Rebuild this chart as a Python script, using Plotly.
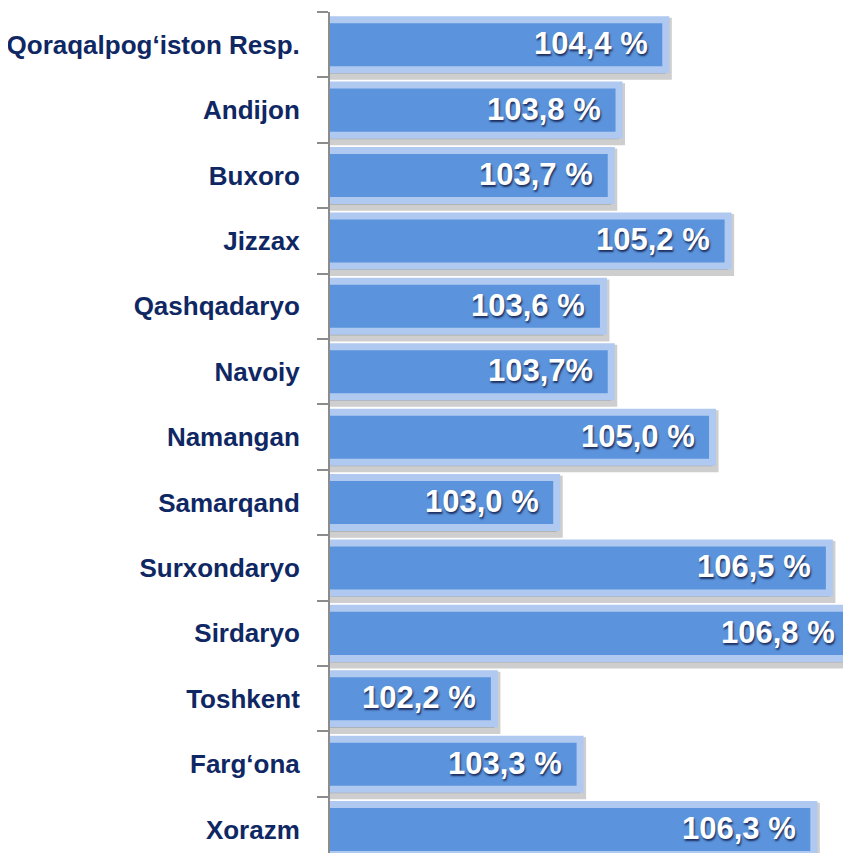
import plotly.graph_objects as go

regions = ["Qoraqalpog‘iston Resp.", "Andijon", "Buxoro", "Jizzax", "Qashqadaryo", "Navoiy",
           "Namangan", "Samarqand", "Surxondaryo", "Sirdaryo", "Toshkent", "Farg‘ona", "Xorazm"]
values = [104.4, 103.8, 103.7, 105.2, 103.6, 103.7, 105.0, 103.0, 106.5, 106.8, 102.2, 103.3, 106.3]
labels = ["104,4 %", "103,8 %", "103,7 %", "105,2 %", "103,6 %", "103,7%", "105,0 %",
          "103,0 %", "106,5 %", "106,8 %", "102,2 %", "103,3 %", "106,3 %"]

fig = go.Figure()
# soft drop shadow
fig.add_trace(go.Bar(
    y=regions, x=values, orientation="h", width=0.765, offset=-0.32,
    marker=dict(color="rgba(80,80,80,0.28)", line=dict(color="rgba(80,80,80,0.28)", width=12)),
    hoverinfo="skip", showlegend=False))
# main bar with light border
fig.add_trace(go.Bar(
    y=regions, x=values, orientation="h", width=0.765,
    marker=dict(color="#5B94DC", line=dict(color="#AFC9F1", width=7)),
    hoverinfo="skip", showlegend=False))

for r, v, t in zip(regions, values, labels):
    fig.add_annotation(x=v, y=r, text=t, showarrow=False, xanchor="right", xshift=-16, yshift=1,
                       font=dict(family="Liberation Sans, Arial", size=31, color="white",
                                 weight="bold", shadow="1px 2px 2px rgba(0,0,40,0.7)"))

fig.update_layout(
    width=851, height=853, margin=dict(l=322, r=0, t=4, b=0),
    paper_bgcolor="white", plot_bgcolor="white", barmode="overlay",
    xaxis=dict(range=[100.09, 106.88], visible=False, showgrid=False),
    yaxis=dict(categoryorder="array", categoryarray=regions, range=[12.48, -0.5],
               autorange=False, automargin=False, showgrid=False, showline=True,
               linecolor="#8C8C8C", linewidth=2,
               ticks="outside", tickson="boundaries", ticklen=11, tickcolor="#8C8C8C", tickwidth=2,
               ticklabelstandoff=23,
               tickfont=dict(family="Liberation Sans, Arial", size=26, color="#0F2864",
                             weight="bold")),
)
fig.write_html("out.html")
